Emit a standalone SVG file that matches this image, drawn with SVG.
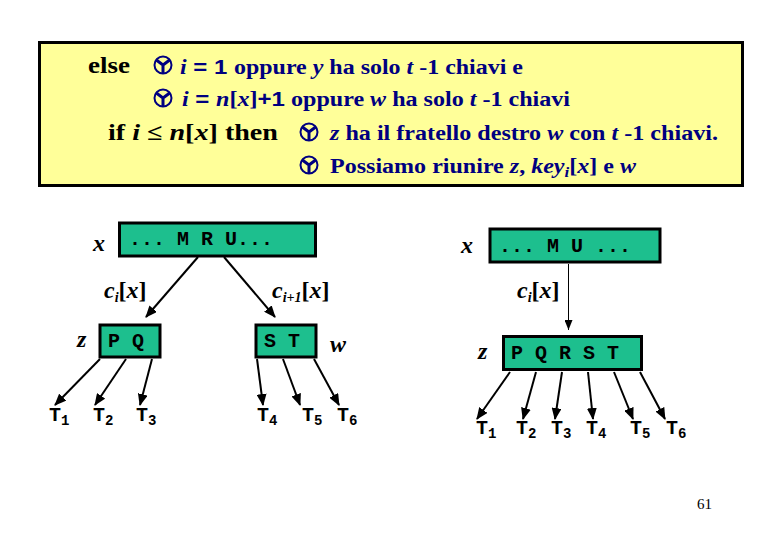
<svg xmlns="http://www.w3.org/2000/svg" width="780" height="540" viewBox="0 0 780 540">
<style>
.ser{font-family:"Liberation Serif","Times New Roman",serif;font-weight:bold}
.blue{fill:#000080;font-size:20px}
.blk{fill:#000;font-size:23px}
.it{font-style:italic}
.sans{font-family:"Liberation Sans",Arial,sans-serif}
.mono{font-family:"Liberation Mono","Courier New",monospace;font-weight:bold;font-size:20px;fill:#000}
.lbl{font-family:"Liberation Serif","Times New Roman",serif;font-weight:bold;font-style:italic;font-size:24px;fill:#000}
.node{fill:#1DBF8E;stroke:#000;stroke-width:3}
.edge{stroke:#000;stroke-width:2;fill:none;marker-end:url(#ah)}
.thin{stroke:#000;stroke-width:1;fill:none;marker-end:url(#ahs)}
.sub{font-size:14px}
</style>
<defs>
<marker id="ah" markerUnits="userSpaceOnUse" markerWidth="12" markerHeight="10" refX="11" refY="5" orient="auto">
<path d="M0,0 L12,5 L0,10 Z" fill="#000"/>
</marker>
<marker id="ahs" markerUnits="userSpaceOnUse" markerWidth="10" markerHeight="8" refX="10" refY="4" orient="auto">
<path d="M0,0 L10,4 L0,8 Z" fill="#000"/>
</marker>
<g id="bul">
<circle cx="0" cy="0" r="8.5" fill="none" stroke="#000080" stroke-width="2"/>
<path d="M0,0 L-6,-4.5 M0,0 L6,-4.5 M0,0 L0,7.5" stroke="#000080" stroke-width="3" stroke-linecap="round"/>
</g>
</defs>
<rect width="780" height="540" fill="#fff"/>
<g id="header">
<rect x="39.5" y="42.5" width="703" height="143" fill="#FFFF99" stroke="#000" stroke-width="3"/>
<text class="ser blk" x="88" y="73" textLength="42" lengthAdjust="spacingAndGlyphs">else</text>
<use href="#bul" x="163" y="65"/>
<text class="ser blue" x="180" y="74" textLength="343" lengthAdjust="spacingAndGlyphs"><tspan class="it">i</tspan><tspan class="sans"> = 1 </tspan>oppure <tspan class="it">y</tspan> ha solo <tspan class="it">t</tspan> -1 chiavi e</text>
<use href="#bul" x="163" y="98"/>
<text class="ser blue" x="182" y="106" textLength="388" lengthAdjust="spacingAndGlyphs"><tspan class="it">i</tspan><tspan class="sans"> = </tspan><tspan class="it">n</tspan>[<tspan class="it">x</tspan>]<tspan class="sans">+1</tspan> oppure <tspan class="it">w</tspan> ha solo <tspan class="it">t</tspan> -1 chiavi</text>
<text class="ser blk" x="108" y="140" textLength="170" lengthAdjust="spacingAndGlyphs">if <tspan class="it">i</tspan> ≤ <tspan class="it">n</tspan>[<tspan class="it">x</tspan>] then</text>
<use href="#bul" x="309" y="132"/>
<text class="ser blue" x="330" y="140" textLength="388" lengthAdjust="spacingAndGlyphs"><tspan class="it">z</tspan> ha il fratello destro <tspan class="it">w</tspan> con <tspan class="it">t</tspan> -1 chiavi.</text>
<use href="#bul" x="309" y="165"/>
<text class="ser blue" x="330" y="173" textLength="306" lengthAdjust="spacingAndGlyphs">Possiamo riunire <tspan class="it">z</tspan>, <tspan class="it">key</tspan><tspan class="it sub" dy="4">i</tspan><tspan dy="-4">[</tspan><tspan class="it">x</tspan>] e <tspan class="it">w</tspan></text>
</g>
<g id="connectors">
<line class="edge" x1="198" y1="257" x2="146" y2="317"/>
<line class="edge" x1="224" y1="257" x2="275" y2="317"/>
<line class="edge" x1="100" y1="359" x2="55" y2="405"/>
<line class="edge" x1="126" y1="359" x2="95" y2="405"/>
<line class="edge" x1="152" y1="359" x2="140" y2="405"/>
<line class="edge" x1="257" y1="359" x2="263" y2="405"/>
<line class="edge" x1="283" y1="359" x2="300" y2="405"/>
<line class="edge" x1="314" y1="359" x2="339" y2="405"/>
<line class="thin" x1="568.5" y1="264" x2="568.5" y2="330"/>
<line class="edge" x1="510" y1="372" x2="477" y2="419"/>
<line class="edge" x1="536" y1="372" x2="523" y2="419"/>
<line class="edge" x1="562" y1="372" x2="555" y2="419"/>
<line class="edge" x1="588" y1="372" x2="593" y2="419"/>
<line class="edge" x1="614" y1="372" x2="633" y2="419"/>
<line class="edge" x1="640" y1="372" x2="665" y2="419"/>
</g>
<g id="x-left">
<rect class="node" x="119.5" y="223" width="196" height="33"/>
<text class="mono" x="129" y="245">... M R U...</text>
<text class="lbl" x="93" y="251">x</text>
</g>
<g id="labels-left">
<text class="lbl" x="104" y="298">c<tspan class="sub" dy="4">i</tspan><tspan dy="-4" font-style="normal">[</tspan>x<tspan font-style="normal">]</tspan></text>
<text class="lbl" x="272" y="298">c<tspan class="sub" dy="4">i+1</tspan><tspan dy="-4" font-style="normal">[</tspan>x<tspan font-style="normal">]</tspan></text>
</g>
<g id="z-left">
<rect class="node" x="100" y="325" width="60" height="32"/>
<text class="mono" x="108" y="347">P Q</text>
<text class="lbl" x="77" y="347">z</text>
</g>
<g id="w-left">
<rect class="node" x="256" y="325" width="60" height="32"/>
<text class="mono" x="264" y="347">S T</text>
<text class="lbl" x="330" y="352">w</text>
</g>
<g id="T-left" class="mono">
<text x="49" y="421">T<tspan class="sub" dy="4">1</tspan></text>
<text x="93" y="421">T<tspan class="sub" dy="4">2</tspan></text>
<text x="136" y="421">T<tspan class="sub" dy="4">3</tspan></text>
<text x="257" y="421">T<tspan class="sub" dy="4">4</tspan></text>
<text x="302" y="421">T<tspan class="sub" dy="4">5</tspan></text>
<text x="337" y="421">T<tspan class="sub" dy="4">6</tspan></text>
</g>
<g id="x-right">
<rect class="node" x="490" y="229" width="170" height="33"/>
<text class="mono" x="499" y="252">... M U ...</text>
<text class="lbl" x="461" y="253">x</text>
</g>
<g id="label-right">
<text class="lbl" x="517" y="298">c<tspan class="sub" dy="4">i</tspan><tspan dy="-4" font-style="normal">[</tspan>x<tspan font-style="normal">]</tspan></text>
</g>
<g id="z-right">
<rect class="node" x="503.5" y="336.5" width="138" height="33"/>
<text class="mono" x="511" y="359">P Q R S T</text>
<text class="lbl" x="478" y="359">z</text>
</g>
<g id="T-right" class="mono">
<text x="476" y="434">T<tspan class="sub" dy="4">1</tspan></text>
<text x="516" y="434">T<tspan class="sub" dy="4">2</tspan></text>
<text x="551" y="434">T<tspan class="sub" dy="4">3</tspan></text>
<text x="586" y="434">T<tspan class="sub" dy="4">4</tspan></text>
<text x="630" y="434">T<tspan class="sub" dy="4">5</tspan></text>
<text x="666" y="434">T<tspan class="sub" dy="4">6</tspan></text>
</g>
<text x="697" y="509" font-family="Liberation Serif,serif" font-size="15" fill="#000">61</text>
</svg>
